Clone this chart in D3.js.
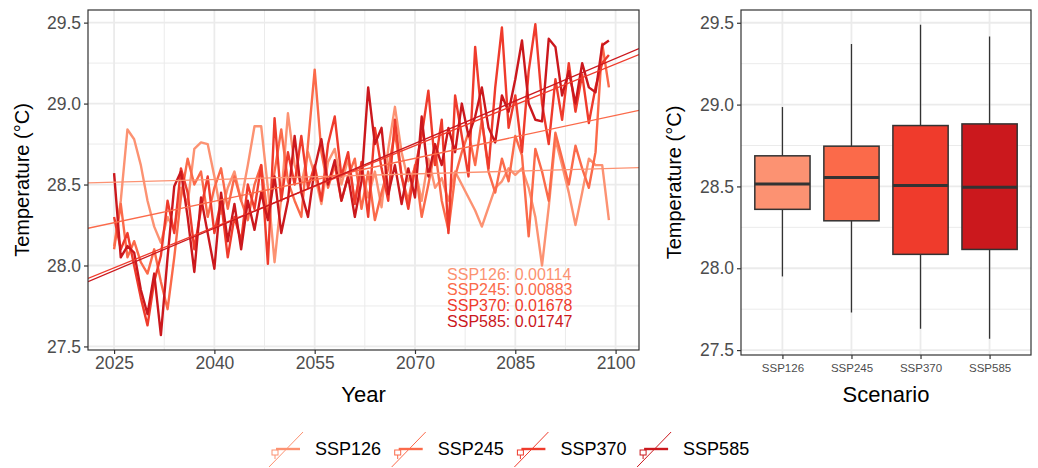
<!DOCTYPE html>
<html>
<head>
<meta charset="utf-8">
<script src="https://cdn.jsdelivr.net/npm/d3@7"></script>
<style>
  body { margin: 0; background: #fff; }
  svg { display: block; font-family: "Liberation Sans", Arial, sans-serif; }
</style>
</head>
<body>
<script>
//data
var scenarios = ['SSP126', 'SSP245', 'SSP370', 'SSP585'];
var colors = ['#FC9272', '#FB6A4A', '#EF3B2C', '#CB181D'];
var years = d3.range(2025, 2100);
var ssp126 = [28.12, 28.40, 28.84, 28.78, 28.62, 28.40, 28.24, 28.14, 28.30, 28.22,
    28.48, 28.38, 28.72, 28.76, 28.75, 28.55, 28.32, 28.48, 28.58, 28.40,
    28.62, 28.86, 28.86, 28.48, 28.02, 28.42, 28.94, 28.62, 28.50, 28.70,
    28.56, 28.38, 28.64, 28.72, 28.50, 28.66, 28.40, 28.60, 28.42, 28.58,
    28.36, 28.72, 28.98, 28.70, 28.52, 28.60, 28.40, 28.66, 28.48, 28.54,
    28.40, 28.58, 28.50, 28.42, 28.34, 28.24, 28.36, 28.48, 28.52, 28.60,
    28.56, 28.60, 28.48, 28.30, 28.00, 28.36, 28.78, 28.62, 28.45, 28.25,
    28.45, 28.66, 28.62, 28.62, 28.28];
var ssp245 = [28.10, 28.38, 28.05, 28.15, 28.02, 27.95, 28.10, 27.90, 27.73, 28.05,
    28.42, 28.66, 28.50, 28.58, 28.30, 28.48, 28.60, 28.35, 28.55, 28.40,
    28.28, 28.50, 28.62, 28.30, 28.58, 28.84, 28.52, 28.40, 28.30, 28.75,
    29.21, 28.70, 28.48, 28.62, 28.40, 28.55, 28.66, 28.35, 28.58, 28.28,
    28.45, 28.60, 28.82, 28.55, 28.40, 28.62, 28.30, 28.50, 28.72, 28.40,
    28.22, 28.55, 28.70, 28.82, 28.62, 28.90, 28.58, 28.45, 28.66, 28.52,
    28.80, 28.68, 28.18, 28.72, 28.58, 28.40, 28.82, 28.66, 28.50, 28.74,
    28.60, 28.48, 28.70, 29.37, 29.10];
var ssp370 = [28.30, 28.10, 28.20, 28.00, 27.80, 27.63, 27.90, 28.06, 28.40, 28.20,
    28.60, 28.45, 28.10, 28.35, 28.55, 28.20, 28.40, 28.05, 28.30, 28.15,
    28.50, 28.35, 28.62, 28.01, 28.91, 28.40, 28.70, 28.50, 28.80, 28.48,
    28.62, 28.40, 28.75, 28.92, 28.55, 28.70, 28.38, 28.64, 28.30, 28.85,
    28.60, 28.40, 28.90, 28.55, 28.35, 28.60, 28.80, 29.08, 28.62, 28.90,
    28.20, 29.05, 28.80, 28.55, 29.35, 28.90, 28.60, 29.10, 29.47, 28.85,
    29.05, 28.70, 29.20, 29.49, 29.00, 28.75, 29.15, 28.90, 29.25, 28.95,
    29.18, 28.88, 29.10, 29.25, 29.30];
var ssp585 = [28.57, 28.05, 28.12, 28.08, 27.85, 27.70, 27.95, 27.57, 28.05, 28.49,
    28.58, 28.30, 27.96, 28.42, 28.20, 27.98, 28.45, 28.15, 28.38, 28.10,
    28.40, 28.22, 28.45, 28.28, 28.55, 28.20, 28.40, 28.80, 28.45, 28.30,
    28.60, 28.78, 28.50, 28.65, 28.40, 28.55, 28.30, 28.52, 29.10, 28.75,
    28.85, 28.44, 28.62, 28.38, 28.60, 28.42, 28.92, 28.55, 28.75, 28.62,
    28.85, 28.70, 29.00, 28.80, 28.92, 29.10, 28.85, 28.76, 29.05, 28.95,
    29.15, 29.39, 29.00, 28.90, 28.89, 29.40, 29.35, 29.05, 29.20, 29.00,
    29.25, 29.10, 29.07, 29.36, 29.39];
var seriesValues = [ssp126, ssp245, ssp370, ssp585];
// linear trend: slope per year and fitted value at 2021.1
var trendSlopes = [0.00114, 0.00883, 0.01678, 0.01747];
var trendStart = [28.51, 28.23, 27.92, 27.90];
var trendStartYear = 2021.1;
// boxplot stats
var boxLow = [27.95, 27.73, 27.63, 27.57];
var boxQ1 = [28.36, 28.29, 28.085, 28.115];
var boxMedian = [28.515, 28.555, 28.505, 28.495];
var boxQ3 = [28.687, 28.746, 28.872, 28.882];
var boxHigh = [28.985, 29.37, 29.488, 29.416];
var xTicks = [2025, 2040, 2055, 2070, 2085, 2100];
var yTicks = [27.5, 28.0, 28.5, 29.0, 29.5];
//end data

var W = 1038, H = 468;
var svg = d3.select('body').append('svg').attr('width', W).attr('height', H);
var gridCol = '#EBEBEB', borderCol = '#333333', tickText = '#4D4D4D';

// ---------- left panel: time series ----------
var left = {x0: 88, x1: 639, y0: 10, y1: 350};
var xL = d3.scaleLinear().domain([2021.1, 2103.5]).range([left.x0, left.x1]);
var yL = d3.scaleLinear().domain([27.478, 29.578]).range([left.y1, left.y0]);

var gL = svg.append('g');
// minor + major grid
var xMinor = [2032.5, 2047.5, 2062.5, 2077.5, 2092.5];
var yMinor = [27.75, 28.25, 28.75, 29.25];
gL.selectAll('.vminor').data(xMinor).enter().append('line')
    .attr('x1', function (d) { return xL(d); }).attr('x2', function (d) { return xL(d); })
    .attr('y1', left.y0).attr('y2', left.y1)
    .attr('stroke', gridCol).attr('stroke-width', 1);
gL.selectAll('.hminor').data(yMinor).enter().append('line')
    .attr('y1', function (d) { return yL(d); }).attr('y2', function (d) { return yL(d); })
    .attr('x1', left.x0).attr('x2', left.x1)
    .attr('stroke', gridCol).attr('stroke-width', 1);
gL.selectAll('.vmajor').data(xTicks).enter().append('line')
    .attr('x1', function (d) { return xL(d); }).attr('x2', function (d) { return xL(d); })
    .attr('y1', left.y0).attr('y2', left.y1)
    .attr('stroke', gridCol).attr('stroke-width', 1.8);
gL.selectAll('.hmajor').data(yTicks).enter().append('line')
    .attr('y1', function (d) { return yL(d); }).attr('y2', function (d) { return yL(d); })
    .attr('x1', left.x0).attr('x2', left.x1)
    .attr('stroke', gridCol).attr('stroke-width', 1.8);

// series lines
var lineFunc = d3.line()
    .x(function (d) { return xL(d.year); })
    .y(function (d) { return yL(d.value); });
var clip = svg.append('clipPath').attr('id', 'clipL').append('rect')
    .attr('x', left.x0).attr('y', left.y0)
    .attr('width', left.x1 - left.x0).attr('height', left.y1 - left.y0);
var gLines = gL.append('g').attr('clip-path', 'url(#clipL)');
seriesValues.forEach(function (vals, i) {
    var pts = years.map(function (y, j) { return {year: y, value: vals[j]}; });
    gLines.append('path').datum(pts)
        .attr('d', lineFunc)
        .attr('fill', 'none')
        .attr('stroke', colors[i])
        .attr('stroke-width', 2.4)
        .attr('stroke-linejoin', 'round');
});
// trend lines across the whole panel
trendSlopes.forEach(function (s, i) {
    var x0 = xL.domain()[0], x1 = xL.domain()[1];
    gLines.append('line')
        .attr('x1', xL(x0)).attr('y1', yL(trendStart[i]))
        .attr('x2', xL(x1)).attr('y2', yL(trendStart[i] + s * (x1 - trendStartYear)))
        .attr('stroke', colors[i]).attr('stroke-width', 1.3);
});
// slope labels
var slopeY = [27.947, 27.852, 27.755, 27.657];
gL.selectAll('.slope').data(scenarios).enter().append('text')
    .attr('x', xL(2074.8))
    .attr('y', function (d, i) { return yL(slopeY[i]); })
    .attr('dy', '0.35em')
    .attr('font-size', 16)
    .attr('fill', function (d, i) { return colors[i]; })
    .text(function (d, i) { return d + ': ' + trendSlopes[i].toFixed(5); });

// border
gL.append('rect').attr('x', left.x0).attr('y', left.y0)
    .attr('width', left.x1 - left.x0).attr('height', left.y1 - left.y0)
    .attr('fill', 'none').attr('stroke', borderCol).attr('stroke-width', 1.2);
// axes
var axLX = d3.axisBottom(xL).tickValues(xTicks).tickSize(4).tickPadding(3).tickFormat(d3.format('d'));
var axLY = d3.axisLeft(yL).tickValues(yTicks).tickSize(4).tickPadding(3).tickFormat(d3.format('.1f'));
function styleAxis(g, fs) {
    g.select('.domain').remove();
    g.selectAll('line').attr('stroke', borderCol).attr('stroke-width', 1.2);
    g.selectAll('text').attr('fill', tickText).attr('font-size', fs)
        .attr('font-family', '"Liberation Sans", Arial, sans-serif');
}
gL.append('g').attr('transform', 'translate(0,' + left.y1 + ')').call(axLX).call(styleAxis, 17.5);
gL.append('g').attr('transform', 'translate(' + left.x0 + ',0)').call(axLY).call(styleAxis, 17.5);
gL.append('text').attr('x', (left.x0 + left.x1) / 2).attr('y', 402)
    .attr('text-anchor', 'middle').attr('font-size', 22).text('Year');
gL.append('text').attr('transform', 'translate(29,' + (left.y0 + left.y1) / 2 + ') rotate(-90)')
    .attr('text-anchor', 'middle').attr('font-size', 20).text('Temperature (°C)');

// ---------- right panel: boxplots ----------
var right = {x0: 741, x1: 1031, y0: 10, y1: 355};
var xR = d3.scalePoint().domain(scenarios).range([right.x0, right.x1]).padding(0.6);
var yR = d3.scaleLinear().domain([27.47, 29.578]).range([right.y1, right.y0]);
var gR = svg.append('g');
gR.selectAll('.hminor').data(yMinor).enter().append('line')
    .attr('y1', function (d) { return yR(d); }).attr('y2', function (d) { return yR(d); })
    .attr('x1', right.x0).attr('x2', right.x1)
    .attr('stroke', gridCol).attr('stroke-width', 1);
gR.selectAll('.hmajor').data(yTicks).enter().append('line')
    .attr('y1', function (d) { return yR(d); }).attr('y2', function (d) { return yR(d); })
    .attr('x1', right.x0).attr('x2', right.x1)
    .attr('stroke', gridCol).attr('stroke-width', 1.8);
gR.selectAll('.vmajor').data(scenarios).enter().append('line')
    .attr('x1', function (d) { return xR(d); }).attr('x2', function (d) { return xR(d); })
    .attr('y1', right.y0).attr('y2', right.y1)
    .attr('stroke', gridCol).attr('stroke-width', 1.8);

var boxW = xR.step() * 0.8;
var boxes = gR.selectAll('.box').data(scenarios).enter().append('g');
boxes.append('line')
    .attr('x1', function (d) { return xR(d); }).attr('x2', function (d) { return xR(d); })
    .attr('y1', function (d, i) { return yR(boxLow[i]); })
    .attr('y2', function (d, i) { return yR(boxHigh[i]); })
    .attr('stroke', borderCol).attr('stroke-width', 1.3);
boxes.append('rect')
    .attr('x', function (d) { return xR(d) - boxW / 2; })
    .attr('width', boxW)
    .attr('y', function (d, i) { return yR(boxQ3[i]); })
    .attr('height', function (d, i) { return yR(boxQ1[i]) - yR(boxQ3[i]); })
    .attr('fill', function (d, i) { return colors[i]; })
    .attr('stroke', borderCol).attr('stroke-width', 1.5);
boxes.append('line')
    .attr('x1', function (d) { return xR(d) - boxW / 2; })
    .attr('x2', function (d) { return xR(d) + boxW / 2; })
    .attr('y1', function (d, i) { return yR(boxMedian[i]); })
    .attr('y2', function (d, i) { return yR(boxMedian[i]); })
    .attr('stroke', borderCol).attr('stroke-width', 3);

gR.append('rect').attr('x', right.x0).attr('y', right.y0)
    .attr('width', right.x1 - right.x0).attr('height', right.y1 - right.y0)
    .attr('fill', 'none').attr('stroke', borderCol).attr('stroke-width', 1.2);
var axRX = d3.axisBottom(xR).tickSize(4).tickPadding(5);
var axRY = d3.axisLeft(yR).tickValues(yTicks).tickSize(4).tickPadding(3).tickFormat(d3.format('.1f'));
gR.append('g').attr('transform', 'translate(0,' + right.y1 + ')').call(axRX).call(styleAxis, 11.5);
gR.append('g').attr('transform', 'translate(' + right.x0 + ',0)').call(axRY).call(styleAxis, 17.5);
gR.append('text').attr('x', (right.x0 + right.x1) / 2).attr('y', 402)
    .attr('text-anchor', 'middle').attr('font-size', 22).text('Scenario');
gR.append('text').attr('transform', 'translate(681,' + (right.y0 + right.y1) / 2 + ') rotate(-90)')
    .attr('text-anchor', 'middle').attr('font-size', 20).text('Temperature (°C)');

// ---------- legend ----------
var legY = 449;
var legX0 = 268, legStep = 122.7;
var leg = svg.append('g').selectAll('.leg').data(scenarios).enter().append('g')
    .attr('transform', function (d, i) { return 'translate(' + (legX0 + i * legStep) + ',' + legY + ')'; });
leg.append('line').attr('x1', 1).attr('y1', 18).attr('x2', 35).attr('y2', -17)
    .attr('stroke', function (d, i) { return colors[i]; }).attr('stroke-width', 1);
leg.append('line').attr('x1', 8).attr('y1', 0).attr('x2', 32).attr('y2', 0)
    .attr('stroke', function (d, i) { return colors[i]; }).attr('stroke-width', 2.4);
leg.append('rect').attr('x', 4).attr('y', 1).attr('width', 6).attr('height', 5)
    .attr('fill', 'none')
    .attr('stroke', function (d, i) { return colors[i]; }).attr('stroke-width', 1);
leg.append('line').attr('x1', 7).attr('y1', 6).attr('x2', 7).attr('y2', 10)
    .attr('stroke', function (d, i) { return colors[i]; }).attr('stroke-width', 1);
leg.append('text').attr('x', 47).attr('y', 0).attr('dy', '0.36em')
    .attr('font-size', 18).attr('fill', '#000')
    .text(function (d) { return d; });
</script>
</body>
</html>
